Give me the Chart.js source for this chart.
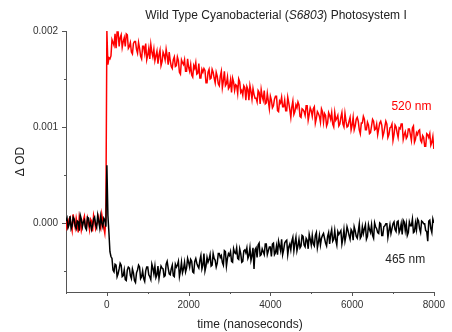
<!DOCTYPE html>
<html>
<head>
<meta charset="utf-8">
<script src="https://cdn.jsdelivr.net/npm/chart.js@4/dist/chart.umd.min.js"></script>
<style>
  html, body { margin: 0; padding: 0; background: #fff; }
  canvas { display: block; }
</style>
</head>
<body>
<canvas id="c" width="452" height="332"></canvas>
<script>
// Flash-photolysis transients of wild type Synechocystis PSI, sampled every 25 ns
const T_START = -1000;   // ns
const T_STEP = 25;       // ns

// Absorbance change at 520 nm (ΔOD)
const od520 = [
  3e-5, -6e-5, -4e-5, 4e-5, 6e-5, -2e-5, -8e-5, 9e-5, 1e-5, -5e-5, 5e-5, -1e-5, -10e-5, 7e-5, 2e-5, -8e-5, -3e-5, 3e-5, 7e-5, -4e-5,
  -5e-5, 5e-5, 0, -7e-5, 4e-5, 2e-5, -9e-5, 8e-5, 3e-5, -6e-5, -2e-5, 1e-5, 6e-5, -3e-5, -6e-5, 9e-5, 2e-5, -5e-5, -11e-5, 4e-5,
  200e-5, 165e-5,
  172e-5, 171e-5, 174e-5, 191e-5, 188e-5, 185e-5, 197e-5, 182e-5, 199e-5, 199e-5, 184e-5, 193e-5, 196e-5, 183e-5, 189e-5, 193e-5, 184e-5, 197e-5, 196e-5, 182e-5,
  184e-5, 188e-5, 178e-5, 176e-5, 187e-5, 189e-5, 189e-5, 181e-5, 177e-5, 188e-5, 182e-5, 174e-5, 171e-5, 184e-5, 184e-5, 177e-5, 187e-5, 170e-5, 175e-5, 182e-5,
  171e-5, 186e-5, 178e-5, 173e-5, 181e-5, 169e-5, 174e-5, 179e-5, 166e-5, 175e-5, 180e-5, 164e-5, 168e-5, 178e-5, 175e-5, 170e-5, 181e-5, 174e-5, 165e-5, 178e-5,
  169e-5, 163e-5, 161e-5, 170e-5, 173e-5, 163e-5, 164e-5, 173e-5, 169e-5, 157e-5, 155e-5, 170e-5, 167e-5, 165e-5, 170e-5, 158e-5, 158e-5, 171e-5, 162e-5, 158e-5,
  165e-5, 154e-5, 152e-5, 164e-5, 161e-5, 167e-5, 155e-5, 156e-5, 166e-5, 151e-5, 151e-5, 160e-5, 157e-5, 161e-5, 159e-5, 146e-5, 146e-5, 157e-5, 160e-5, 150e-5,
  151e-5, 160e-5, 157e-5, 151e-5, 146e-5, 157e-5, 153e-5, 145e-5, 143e-5, 153e-5, 158e-5, 141e-5, 148e-5, 158e-5, 143e-5, 145e-5, 152e-5, 140e-5, 142e-5, 149e-5,
  136e-5, 151e-5, 147e-5, 138e-5, 144e-5, 143e-5, 135e-5, 150e-5, 147e-5, 136e-5, 138e-5, 133e-5, 143e-5, 141e-5, 128e-5, 142e-5, 139e-5, 128e-5, 143e-5, 137e-5,
  129e-5, 140e-5, 134e-5, 130e-5, 130e-5, 126e-5, 138e-5, 136e-5, 124e-5, 139e-5, 132e-5, 128e-5, 138e-5, 124e-5, 125e-5, 135e-5, 127e-5, 119e-5, 132e-5, 128e-5,
  120e-5, 122e-5, 129e-5, 132e-5, 132e-5, 117e-5, 116e-5, 127e-5, 125e-5, 131e-5, 121e-5, 121e-5, 128e-5, 117e-5, 117e-5, 131e-5, 125e-5, 118e-5, 110e-5, 121e-5,
  127e-5, 113e-5, 116e-5, 123e-5, 120e-5, 126e-5, 123e-5, 111e-5, 110e-5, 119e-5, 118e-5, 116e-5, 112e-5, 122e-5, 122e-5, 107e-5, 113e-5, 120e-5, 117e-5, 111e-5,
  119e-5, 121e-5, 104e-5, 109e-5, 116e-5, 114e-5, 111e-5, 105e-5, 119e-5, 116e-5, 105e-5, 114e-5, 112e-5, 101e-5, 104e-5, 115e-5, 112e-5, 108e-5, 115e-5, 103e-5,
  100e-5, 115e-5, 107e-5, 109e-5, 112e-5, 101e-5, 103e-5, 110e-5, 115e-5, 103e-5, 100e-5, 114e-5, 106e-5, 100e-5, 101e-5, 106e-5, 110e-5, 97e-5, 102e-5, 110e-5,
  97e-5, 101e-5, 108e-5, 110e-5, 106e-5, 97e-5, 93e-5, 104e-5, 104e-5, 111e-5, 108e-5, 97e-5, 97e-5, 105e-5, 102e-5, 93e-5, 94e-5, 101e-5, 108e-5, 106e-5,
  97e-5, 98e-5, 103e-5, 92e-5, 98e-5, 104e-5, 106e-5, 102e-5, 90e-5, 94e-5, 100e-5, 106e-5, 103e-5, 89e-5, 92e-5, 99e-5, 100e-5, 103e-5, 86e-5, 92e-5,
  102e-5, 100e-5, 94e-5, 89e-5, 99e-5, 98e-5, 103e-5, 103e-5, 87e-5, 92e-5, 95e-5, 88e-5, 90e-5, 98e-5, 98e-5, 92e-5, 86e-5, 99e-5, 101e-5, 84e-5,
  87e-5, 94e-5, 92e-5, 96e-5, 97e-5, 86e-5, 84e-5, 91e-5, 89e-5, 80e-5, 80e-5, 93e-5, 92e-5, 89e-5, 93e-5, 81e-5, 84e-5, 90e-5, 77e-5
];

// Absorbance change at 465 nm (ΔOD)
const od465 = [
  2e-5, 5e-5, -5e-5, -2e-5, 7e-5, -6e-5, -3e-5, 6e-5, 4e-5, -3e-5, -6e-5, 2e-5, 1e-5, -8e-5, 8e-5, 4e-5, -4e-5, 1e-5, 3e-5, -5e-5,
  -7e-5, 6e-5, 5e-5, -3e-5, 0, -7e-5, -3e-5, 4e-5, 6e-5, -2e-5, -5e-5, 8e-5, 2e-5, -5e-5, 7e-5, 0, -4e-5, 5e-5, 3e-5, -4e-5,
  60e-5, 8e-5,
  -10e-5, -30e-5, -35e-5, -37e-5, -49e-5, -51e-5, -43e-5, -44e-5, -56e-5, -53e-5, -48e-5, -42e-5, -44e-5, -56e-5, -55e-5, -49e-5, -59e-5, -60e-5, -49e-5, -46e-5,
  -47e-5, -55e-5, -58e-5, -48e-5, -52e-5, -60e-5, -62e-5, -52e-5, -49e-5, -44e-5, -46e-5, -58e-5, -56e-5, -50e-5, -58e-5, -61e-5, -50e-5, -46e-5, -46e-5, -54e-5,
  -56e-5, -59e-5, -43e-5, -47e-5, -53e-5, -45e-5, -57e-5, -54e-5, -45e-5, -58e-5, -51e-5, -45e-5, -47e-5, -48e-5, -56e-5, -55e-5, -43e-5, -40e-5, -47e-5, -53e-5,
  -54e-5, -48e-5, -44e-5, -55e-5, -56e-5, -43e-5, -46e-5, -44e-5, -40e-5, -56e-5, -50e-5, -41e-5, -52e-5, -48e-5, -41e-5, -51e-5, -47e-5, -37e-5, -41e-5, -46e-5,
  -38e-5, -40e-5, -51e-5, -52e-5, -40e-5, -37e-5, -42e-5, -45e-5, -47e-5, -39e-5, -34e-5, -48e-5, -44e-5, -32e-5, -50e-5, -45e-5, -36e-5, -41e-5, -38e-5, -33e-5,
  -45e-5, -44e-5, -32e-5, -37e-5, -39e-5, -46e-5, -42e-5, -32e-5, -32e-5, -36e-5, -34e-5, -41e-5, -44e-5, -29e-5, -30e-5, -45e-5, -37e-5, -32e-5, -34e-5, -30e-5,
  -40e-5, -41e-5, -27e-5, -31e-5, -32e-5, -26e-5, -37e-5, -38e-5, -27e-5, -32e-5, -41e-5, -40e-5, -29e-5, -28e-5, -31e-5, -26e-5, -37e-5, -34e-5, -26e-5, -39e-5,
  -34e-5, -26e-5, -48e-5, -28e-5, -26e-5, -36e-5, -23e-5, -21e-5, -34e-5, -33e-5, -27e-5, -30e-5, -33e-5, -22e-5, -22e-5, -33e-5, -29e-5, -25e-5, -25e-5, -35e-5,
  -22e-5, -21e-5, -33e-5, -31e-5, -24e-5, -33e-5, -19e-5, -24e-5, -29e-5, -17e-5, -33e-5, -28e-5, -21e-5, -19e-5, -18e-5, -33e-5, -25e-5, -22e-5, -28e-5, -19e-5,
  -15e-5, -29e-5, -21e-5, -15e-5, -29e-5, -24e-5, -17e-5, -26e-5, -24e-5, -13e-5, -14e-5, -23e-5, -25e-5, -16e-5, -18e-5, -27e-5, -12e-5, -17e-5, -23e-5, -13e-5,
  -22e-5, -24e-5, -13e-5, -10e-5, -26e-5, -20e-5, -13e-5, -23e-5, -16e-5, -13e-5, -11e-5, -16e-5, -21e-5, -24e-5, -14e-5, -10e-5, -22e-5, -12e-5, -7e-5, -19e-5,
  -17e-5, -8e-5, -18e-5, -23e-5, -9e-5, -12e-5, -10e-5, -8e-5, -22e-5, -16e-5, -7e-5, -19e-5, -13e-5, -4e-5, -8e-5, -13e-5, -17e-5, -7e-5, -9e-5, -18e-5,
  -4e-5, -8e-5, -14e-5, -16e-5, -9e-5, -1e-5, -16e-5, -14e-5, -4e-5, -11e-5, -6e-5, -2e-5, -17e-5, -14e-5, -2e-5, -7e-5, -10e-5, -2e-5, -13e-5, -16e-5,
  0, -4e-5, -6e-5, -10e-5, -11e-5, 0, -1e-5, -13e-5, -13e-5, -4e-5, -3e-5, -1e-5, -1e-5, -15e-5, -8e-5, -2e-5, -11e-5, -6e-5, -1e-5, 1e-5,
  -7e-5, -9e-5, 1e-5, 2e-5, -10e-5, -7e-5, -1e-5, -12e-5, 3e-5, 1e-5, -8e-5, -1e-5, -13e-5, -10e-5, 1e-5, -3e-5, -3e-5, 4e-5, -10e-5, -9e-5,
  0, -7e-5, 4e-5, 2e-5, -6e-5, -10e-5, 2e-5, 1e-5, -1e-5, -1e-5, -8e-5, -9e-5, -19e-5, 2e-5, 3e-5, -6e-5, -10e-5, 4e-5, 0
];

// Axis ticks
const xMajorTicks = [0, 2000, 4000, 6000, 8000];
const xMinorTicks = [-1000, 1000, 3000, 5000, 7000];
const yMajorTicks = [0, 0.001, 0.002];
const yMajorLabels = ['0.000', '0.001', '0.002'];
const yMinorTicks = [-0.0005, 0.0005, 0.0015];

// Wavelength labels, placed in data coordinates
const traceLabels = [
  { text: '520 nm', t: 7450, od: 0.00121, color: '#ff0000' },
  { text: '465 nm', t: 7300, od: -0.000385, color: '#222222' }
];

const times = od520.map((_, i) => T_START + i * T_STEP);

const FONT = '"Liberation Sans", Arial, Helvetica, sans-serif';
const AXIS_COLOR = '#555555';
const TEXT_COLOR = '#333333';

// Title with an italic strain name
const mixedTitle = {
  id: 'mixedTitle',
  afterDraw(chart) {
    const ctx = chart.ctx;
    const parts = [
      { s: 'Wild Type Cyanobacterial (', f: '12px ' + FONT },
      { s: 'S6803', f: 'italic 12px ' + FONT },
      { s: ') Photosystem I', f: '12px ' + FONT }
    ];
    ctx.save();
    let total = 0;
    parts.forEach(p => { ctx.font = p.f; p.w = ctx.measureText(p.s).width; total += p.w; });
    let x = 276 - total / 2;
    ctx.fillStyle = '#222222';
    ctx.textBaseline = 'alphabetic';
    ctx.textAlign = 'left';
    parts.forEach(p => { ctx.font = p.f; ctx.fillText(p.s, x, 19); x += p.w; });
    ctx.restore();
  }
};

// Outward tick marks, long for labelled values and short for intermediate ones
const tickMarks = {
  id: 'tickMarks',
  afterDraw(chart) {
    const { ctx } = chart;
    const xs = chart.scales.x, ys = chart.scales.y;
    ctx.save();
    ctx.strokeStyle = AXIS_COLOR;
    ctx.lineWidth = 1;
    ctx.beginPath();
    const xTick = (v, len) => {
      const px = Math.round(xs.getPixelForValue(v)) + 0.5;
      ctx.moveTo(px, xs.top); ctx.lineTo(px, xs.top + len);
    };
    const yTick = (v, len) => {
      const py = Math.round(ys.getPixelForValue(v)) + 0.5;
      ctx.moveTo(ys.right, py); ctx.lineTo(ys.right - len, py);
    };
    xMajorTicks.forEach(v => xTick(v, 4));
    xMinorTicks.forEach(v => xTick(v, 2));
    yMajorTicks.forEach(v => yTick(v, 4));
    yMinorTicks.forEach(v => yTick(v, 2));
    ctx.stroke();
    ctx.restore();
  }
};

const wavelengthLabels = {
  id: 'wavelengthLabels',
  afterDatasetsDraw(chart) {
    const { ctx } = chart;
    const xs = chart.scales.x, ys = chart.scales.y;
    ctx.save();
    ctx.font = '12px ' + FONT;
    ctx.textAlign = 'center';
    ctx.textBaseline = 'middle';
    traceLabels.forEach(l => {
      ctx.fillStyle = l.color;
      ctx.fillText(l.text, xs.getPixelForValue(l.t), ys.getPixelForValue(l.od));
    });
    ctx.restore();
  }
};

new Chart(document.getElementById('c'), {
  type: 'line',
  data: {
    datasets: [
      {
        label: '465 nm',
        data: times.map((t, i) => ({ x: t, y: od465[i] })),
        borderColor: '#000000',
        borderWidth: 1.5,
        pointRadius: 0,
        tension: 0,
        order: 0
      },
      {
        label: '520 nm',
        data: times.map((t, i) => ({ x: t, y: od520[i] })),
        borderColor: '#ff0000',
        borderWidth: 1.5,
        pointRadius: 0,
        tension: 0,
        order: 1
      }
    ]
  },
  options: {
    responsive: false,
    devicePixelRatio: 1,
    animation: false,
    events: [],
    layout: { padding: { top: 31, right: 16, left: 0, bottom: 0 } },
    plugins: {
      legend: { display: false },
      tooltip: { enabled: false },
      title: { display: false }
    },
    scales: {
      x: {
        type: 'linear',
        min: -1000,
        max: 8000,
        afterFit(scale) { scale.height = 40; },
        afterBuildTicks(scale) {
          scale.ticks = xMajorTicks.map(v => ({ value: v }));
        },
        grid: { display: false, drawTicks: false },
        border: { display: true, color: AXIS_COLOR, width: 1 },
        ticks: {
          padding: 7,
          maxRotation: 0,
          autoSkip: false,
          color: TEXT_COLOR,
          font: { family: FONT, size: 10 },
          callback: v => String(v)
        },
        title: {
          display: true,
          text: 'time (nanoseconds)',
          color: '#222222',
          font: { family: FONT, size: 12 },
          padding: { top: 0, bottom: 0 }
        }
      },
      y: {
        type: 'linear',
        min: -0.00072,
        max: 0.002,
        afterFit(scale) { scale.width = 66; },
        afterBuildTicks(scale) {
          scale.ticks = yMajorTicks.map(v => ({ value: v }));
        },
        grid: { display: false, drawTicks: false },
        border: { display: true, color: AXIS_COLOR, width: 1 },
        ticks: {
          padding: 8,
          autoSkip: false,
          color: TEXT_COLOR,
          font: { family: FONT, size: 10 },
          callback: v => yMajorLabels[yMajorTicks.findIndex(m => Math.abs(m - v) < 1e-9)]
        },
        title: {
          display: true,
          text: 'Δ OD',
          color: '#222222',
          font: { family: FONT, size: 12 },
          padding: { top: 13, bottom: 0 }
        }
      }
    }
  },
  plugins: [mixedTitle, tickMarks, wavelengthLabels]
});
</script>
</body>
</html>
